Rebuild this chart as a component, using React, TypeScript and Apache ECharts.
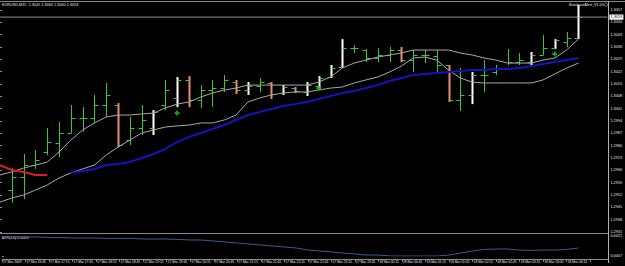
import React, { useEffect, useRef } from "react";
import * as echarts from "echarts";

// ---------- data ----------
const symbolName = "EURUSD,M15";
const indicatorName = "BreakoutAlert_V1.01";
const atrName = "ATR(14)";

// tick labels of the time axis (every second M15 bar)
const timeLabels = [
  "17 Mar 2009", "17 Mar 16:45", "17 Mar 17:15", "17 Mar 17:45", "17 Mar 18:15",
  "17 Mar 18:45", "17 Mar 19:15", "17 Mar 19:45", "17 Mar 20:15", "17 Mar 20:45",
  "17 Mar 21:15", "17 Mar 21:45", "17 Mar 22:15", "17 Mar 22:45", "17 Mar 23:15",
  "17 Mar 23:45", "18 Mar 00:15", "18 Mar 00:45", "18 Mar 01:15", "18 Mar 01:45",
  "18 Mar 02:15", "18 Mar 02:45", "18 Mar 03:15", "18 Mar 03:45", "18 Mar 04:15",
];

// bars 1..49
const opens = [
  1.29548, 1.29622, 1.2969, 1.29764, 1.29815, 1.29872, 1.29957, 1.29957, 1.30031, 1.30031,
  1.29832, 1.299, 1.299, 1.30031, 1.30071, 1.30173, 1.30059, 1.30116, 1.30127, 1.30161,
  1.30116, 1.30139, 1.30156, 1.30099, 1.30127, 1.30105, 1.30139, 1.3019, 1.30246, 1.30354,
  1.30343, 1.30298, 1.30315, 1.30343, 1.30286, 1.30315, 1.30309, 1.30258, 1.30059, 1.30088,
  1.30201, 1.30218, 1.30241, 1.30275, 1.30275, 1.30315, 1.30354, 1.30388, 1.30411,
];
const highs = [
  1.29673, 1.29753, 1.29775, 1.299, 1.29934, 1.30031, 1.30019, 1.30088, 1.30156, 1.30042,
  1.29963, 1.30031, 1.30002, 1.30173, 1.3019, 1.30195, 1.30144, 1.30173, 1.30201, 1.30173,
  1.30161, 1.30184, 1.30161, 1.30144, 1.30133, 1.30161, 1.30195, 1.30258, 1.30405, 1.30371,
  1.30349, 1.30354, 1.3036, 1.3036, 1.30343, 1.30343, 1.30343, 1.30258, 1.30241, 1.30218,
  1.30286, 1.30258, 1.30349, 1.30326, 1.30332, 1.30428, 1.30405, 1.30445, 1.30598,
];
const lows = [
  1.29475, 1.29497, 1.29668, 1.29747, 1.29736, 1.29872, 1.29878, 1.29929, 1.29963, 1.29792,
  1.29804, 1.29861, 1.29861, 1.30002, 1.30019, 1.30019, 1.30014, 1.30019, 1.30105, 1.30093,
  1.30088, 1.30105, 1.30065, 1.30088, 1.30099, 1.30082, 1.30127, 1.30184, 1.30241, 1.30326,
  1.30275, 1.30275, 1.30275, 1.30275, 1.30218, 1.30269, 1.30218, 1.30048, 1.29997, 1.30036,
  1.30105, 1.30201, 1.30258, 1.30258, 1.30258, 1.30315, 1.30349, 1.3036, 1.30405,
];
const closes = [
  1.29622, 1.2969, 1.29719, 1.29821, 1.29872, 1.29957, 1.29957, 1.30031, 1.30088, 1.29804,
  1.299, 1.29946, 1.29991, 1.30116, 1.30173, 1.30059, 1.30116, 1.30127, 1.30173, 1.30116,
  1.30139, 1.30161, 1.30093, 1.30133, 1.3011, 1.30144, 1.30184, 1.30241, 1.30354, 1.30354,
  1.30298, 1.30315, 1.30343, 1.30286, 1.30315, 1.30315, 1.30258, 1.30059, 1.30088, 1.30201,
  1.30201, 1.30241, 1.30275, 1.30286, 1.30315, 1.30354, 1.304, 1.30411, 1.3053,
];
// 0 = plain bar, 1 = white highlighted bar, 2 = salmon highlighted bar
const barKinds = [
  0, 0, 0, 0, 0, 0, 0, 0, 0, 2,
  0, 0, 1, 0, 1, 2, 0, 0, 0, 2,
  1, 0, 2, 1, 2, 1, 1, 1, 1, 0,
  0, 0, 0, 2, 0, 0, 0, 2, 0, 1,
  0, 0, 0, 0, 1, 0, 1, 0, 1,
];

// indicator lines, bars 0..49
const upperBand = [
  1.29634, 1.29651, 1.29673, 1.2969, 1.29707, 1.29764, 1.29832, 1.29889, 1.29929, 1.29963,
  1.29974, 1.29974, 1.2998, 1.29985, 1.30014, 1.30036, 1.30048, 1.30076, 1.30099, 1.30116,
  1.30127, 1.30144, 1.30144, 1.30144, 1.30144, 1.30144, 1.30144, 1.30161, 1.3019, 1.30241,
  1.30269, 1.30286, 1.30303, 1.30315, 1.30326, 1.30343, 1.30343, 1.30343, 1.30343, 1.30326,
  1.30315, 1.30298, 1.30286, 1.30269, 1.30269, 1.30269, 1.30286, 1.30298, 1.30343, 1.30405,
];
const lowerBand = [
  1.2948, 1.29503, 1.2952, 1.29548, 1.29577, 1.29616, 1.29645, 1.29668, 1.2969, 1.29747,
  1.29792, 1.29832, 1.29872, 1.29889, 1.29906, 1.29912, 1.29917, 1.29929, 1.29929, 1.29946,
  1.29974, 1.30048, 1.30071, 1.30088, 1.30099, 1.30105, 1.30105, 1.30116, 1.30127, 1.30133,
  1.30156, 1.30173, 1.3019, 1.30218, 1.30252, 1.30298, 1.30303, 1.30286, 1.30229, 1.30184,
  1.30161, 1.30156, 1.30156, 1.30156, 1.30156, 1.30156, 1.30173, 1.30207, 1.30241, 1.30269,
];
const trendUp = [
  null, null, null, null, null, null, 1.29645, 1.29656, 1.29668, 1.2969,
  1.29696, 1.29707, 1.2973, 1.29753, 1.29781, 1.29821, 1.29849, 1.29872, 1.29895, 1.29917,
  1.29946, 1.29974, 1.29991, 1.30008, 1.30025, 1.30036, 1.30048, 1.30065, 1.30082, 1.30099,
  1.3011, 1.30127, 1.30144, 1.30167, 1.30184, 1.30201, 1.30207, 1.30212, 1.30218, 1.30224,
  1.30229, 1.30229, 1.30235, 1.30235, 1.30241, 1.30252, 1.30264, 1.30275, 1.30286, 1.30298,
];
const trendDown = [1.2969, 1.29662, 1.29651, 1.29634, 1.29634];
const signalBars = [15, 27, 47];
const signalPrices = [1.29985, 1.30127, 1.3032];

const atrValues = [
  0.00203, 0.00203, 0.00203, 0.00203, 0.002, 0.002, 0.00196, 0.00196, 0.00196, 0.00193,
  0.00193, 0.00193, 0.00189, 0.00189, 0.00189, 0.00186, 0.00182, 0.00182, 0.00175, 0.00168,
  0.00161, 0.00154, 0.00147, 0.0014, 0.00133, 0.00126, 0.00112, 0.00105, 0.00098, 0.00091,
  0.00084, 0.00077, 0.00077, 0.0007, 0.0007, 0.0007, 0.0007, 0.0007, 0.00077, 0.00091,
  0.00105, 0.00116, 0.00119, 0.00119, 0.00112, 0.00109, 0.00112, 0.00112, 0.00116, 0.00126,
];

// axis scales
const priceMin = 1.2931;
const priceMax = 1.3061;
const priceStep = 0.0007;
const atrMin = 0.0007;
const atrMax = 0.0021;
const barAxisMax = 51.455;

export default function App() {
  const ref = useRef<HTMLDivElement>(null);

  useEffect(() => {
    const chart = echarts.init(ref.current!, undefined, { renderer: "svg", width: 625, height: 266 });
    const font = "Liberation Sans";
    const textColor = "#e6e6e6";
    const gray = "#8a8a8a";

    const barData = opens.map((o, k) => [k + 1, o, highs[k], lows[k], closes[k], barKinds[k]]);
    const idx = upperBand.map((_, i) => i);
    const last = closes.length - 1;
    const lastClose = closes[last];
    const title =
      symbolName + "  " +
      [opens[last], highs[last], lows[last], closes[last]].map((v) => v.toFixed(4)).join(" ");

    const option: any = {
      animation: false,
      backgroundColor: "#000",
      grid: [
        { left: 0, right: 17, top: 3, height: 229 },
        { left: 0, right: 17, top: 236, height: 20 },
      ],
      xAxis: [
        { type: "value", gridIndex: 0, min: 0, max: barAxisMax, show: false },
        {
          type: "value", gridIndex: 1, min: 0, max: barAxisMax, interval: 2,
          position: "bottom", offset: 3,
          axisLine: { show: true, lineStyle: { color: gray, width: 1 } },
          axisTick: { show: true, length: 3, lineStyle: { color: gray } },
          splitLine: { show: false },
          axisLabel: {
            show: true, showMaxLabel: false, align: "left", margin: 1, padding: [0, 0, 0, 1],
            fontSize: 3.3, fontFamily: font, color: textColor,
            formatter: (v: number) => (Number.isInteger(v / 2) && timeLabels[v / 2]) || "",
          },
        },
      ],
      yAxis: [
        {
          type: "value", gridIndex: 0, position: "right", min: priceMin, max: priceMax, interval: priceStep,
          axisLine: { show: false },
          axisTick: { show: true, length: 2, lineStyle: { color: gray } },
          splitLine: { show: false },
          axisLabel: {
            showMaxLabel: false, margin: 3, fontSize: 3.8, fontFamily: font, color: textColor,
            formatter: (v: number) => v.toFixed(4),
          },
        },
        {
          type: "value", gridIndex: 1, position: "right", min: atrMin, max: atrMax, interval: atrMax - atrMin,
          axisLine: { show: false },
          axisTick: { show: true, length: 2, lineStyle: { color: gray } },
          splitLine: { show: false },
          axisLabel: { margin: 3, fontSize: 3.8, fontFamily: font, color: textColor, formatter: (v: number) => v.toFixed(4) },
        },
      ],
      series: [
        {
          // bid line at the last close, drawn across the whole chart window
          type: "line", xAxisIndex: 0, yAxisIndex: 0, symbol: "none", z: 1,
          data: [[0, lastClose], [barAxisMax, lastClose]],
          lineStyle: { color: "#8c8c8c", width: 1 },
          endLabel: {
            show: true, distance: 2, formatter: lastClose.toFixed(4),
            backgroundColor: "#ffffff", color: "#000", fontSize: 3.8, fontFamily: font, padding: [0.6, 1.2],
          },
        },
        {
          type: "custom", xAxisIndex: 0, yAxisIndex: 0, data: barData, z: 2,
          encode: { x: 0, y: [1, 2, 3, 4] },
          renderItem: (params: any, api: any) => {
            const i = api.value(0);
            const o = api.coord([i, api.value(1)]);
            const h = api.coord([i, api.value(2)]);
            const l = api.coord([i, api.value(3)]);
            const c = api.coord([i, api.value(4)]);
            const kind = api.value(5);
            const x = Math.round(o[0]) + 0.5;
            const col = kind === 1 ? "#ffffff" : kind === 2 ? "#f08a74" : "#3cc43c";
            const w = kind === 0 ? 1 : 2;
            const tick = "#3cc43c";
            return {
              type: "group",
              children: [
                { type: "line", shape: { x1: x, y1: h[1], x2: x, y2: l[1] }, style: { stroke: col, lineWidth: w } },
                { type: "line", shape: { x1: x - 4, y1: Math.round(o[1]) + 0.5, x2: x, y2: Math.round(o[1]) + 0.5 }, style: { stroke: tick, lineWidth: 1 } },
                { type: "line", shape: { x1: x, y1: Math.round(c[1]) + 0.5, x2: x + 4, y2: Math.round(c[1]) + 0.5 }, style: { stroke: tick, lineWidth: 1 } },
              ],
            };
          },
        },
        {
          type: "line", xAxisIndex: 0, yAxisIndex: 0, symbol: "none", z: 3,
          data: idx.map((i) => [i, upperBand[i]]),
          lineStyle: { color: "#a8a8a8", width: 1 },
        },
        {
          type: "line", xAxisIndex: 0, yAxisIndex: 0, symbol: "none", z: 3,
          data: idx.map((i) => [i, lowerBand[i]]),
          lineStyle: { color: "#a8a8a8", width: 1 },
        },
        {
          type: "line", xAxisIndex: 0, yAxisIndex: 0, symbol: "none", z: 3,
          data: idx.filter((i) => trendUp[i] != null).map((i) => [i, trendUp[i]]),
          lineStyle: { color: "#1414bc", width: 2 },
        },
        {
          type: "line", xAxisIndex: 0, yAxisIndex: 0, symbol: "none", z: 3,
          data: trendDown.map((v, i) => [i, v]),
          lineStyle: { color: "#d82020", width: 2 },
        },
        {
          type: "scatter", xAxisIndex: 0, yAxisIndex: 0, z: 4,
          symbol: "path://M1,0H2V1H3V2H2V3H1V2H0V1H1Z", symbolSize: 5,
          itemStyle: { color: "#22d022" },
          data: signalBars.map((b, k) => [b, signalPrices[k]]),
        },
        {
          type: "line", xAxisIndex: 1, yAxisIndex: 1, symbol: "none",
          data: idx.map((i) => [i, atrValues[i]]),
          lineStyle: { color: "#3b5d8e", width: 1 },
        },
      ],
      graphic: [
        { type: "line", shape: { x1: 0, y1: 1.5, x2: 625, y2: 1.5 }, style: { stroke: gray, lineWidth: 1 } },
        { type: "line", shape: { x1: 0, y1: 233.5, x2: 608, y2: 233.5 }, style: { stroke: gray, lineWidth: 1 } },
        { type: "line", shape: { x1: 608.5, y1: 1, x2: 608.5, y2: 263 }, style: { stroke: "#b0b0b0", lineWidth: 1 } },
        { type: "text", left: 2, top: 3, style: { text: title, fill: textColor, fontSize: 3.8, fontFamily: font } },
        { type: "text", right: 21, top: 3, style: { text: indicatorName, fill: textColor, fontSize: 3.8, fontFamily: font } },
        { type: "circle", shape: { cx: 606, cy: 4.7, r: 1.6 }, style: { fill: "none", stroke: "#c0c0c0", lineWidth: 0.6 } },
        { type: "text", left: 2, top: 235.5, style: { text: atrName + " " + atrValues[atrValues.length - 1].toFixed(4), fill: textColor, fontSize: 3.8, fontFamily: font } },
      ],
    };
    chart.setOption(option);
    return () => chart.dispose();
  }, []);

  return (
    <div
      ref={ref}
      style={{ position: "fixed", left: 0, top: 0, width: 625, height: 266, background: "#000" }}
    />
  );
}
